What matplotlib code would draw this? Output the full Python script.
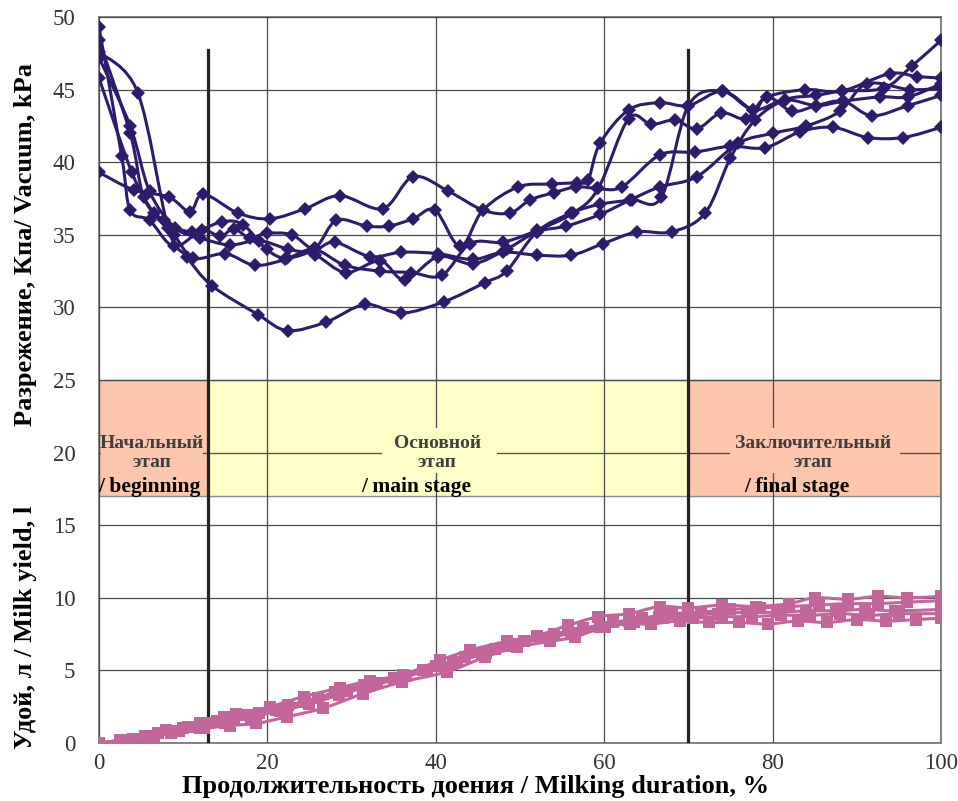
import matplotlib
matplotlib.use("Agg")
import matplotlib.pyplot as plt
from matplotlib.patches import Rectangle, PathPatch
from matplotlib.path import Path

plt.rcParams['font.family'] = ['Liberation Serif', 'DejaVu Serif']

# ---------------- data ----------------
# Vacuum curves (kPa) vs milking duration (%)
vac_P_x = [0, 4.6, 8.2, 10.4, 13.4, 18.9, 22.4, 27, 31.6, 35.9, 41, 45.8, 48.4, 52, 56.1, 59.5, 63.3, 66.8, 70, 74, 77.7, 81.5, 85.2, 88.4, 92.8, 96.1, 100]
vac_P_y = [47.6, 44.8, 35.5, 33.5, 31.5, 29.5, 28.4, 29.0, 30.2, 29.6, 30.4, 31.7, 32.5, 35.2, 36.5, 37.1, 37.4, 37.6, 43.9, 44.9, 43.6, 44.3, 43.9, 44.2, 44.5, 44.5, 45.4]

vac_Q_x = [0, 2.7, 3.7, 6, 8.9, 12.2, 14.4, 16, 17.9, 19.9, 22.9, 25.5, 28, 32.2, 35.9, 40.3, 44.4, 48, 52, 56.1, 59.9, 63.9, 68, 72, 75, 77.9, 81.5, 85.2, 88.2, 93.2, 96.5, 100]
vac_Q_y = [49.3, 40.4, 36.7, 36.0, 34.2, 35.3, 34.9, 35.4, 34.8, 35.1, 35.0, 34.0, 34.5, 33.5, 33.8, 33.7, 33.3, 33.8, 33.6, 33.6, 34.4, 35.2, 35.2, 36.5, 40.3, 42.9, 44.3, 44.6, 44.9, 45.1, 46.6, 48.4]

vac_R_x = [0, 3.7, 5.3, 7.7, 11, 14.6, 17.1, 19.9, 22.3, 25.7, 28.2, 31.8, 34.4, 37.3, 39.9, 42.9, 45.6, 49.8, 53.8, 56.8, 58.1, 59.5, 62.9, 66.6, 70, 74.1, 77.7, 79.3, 83.9, 88.2, 93.9, 97.1, 100]
vac_R_y = [48.4, 42.0, 37.6, 36.0, 35.2, 35.9, 35.7, 34.0, 33.4, 34.1, 36.0, 35.6, 35.6, 36.1, 36.7, 34.2, 36.7, 38.3, 38.5, 38.6, 38.8, 41.3, 43.6, 44.1, 43.9, 44.9, 43.6, 44.5, 45.0, 44.9, 46.1, 45.9, 45.8]

vac_S_x = [0, 3.9, 6.5, 8.9, 11.2, 15, 18.5, 22.1, 25.5, 29.2, 33.4, 37.1, 40.7, 44.1, 48, 52, 56.3, 59.3, 62.9, 65.6, 68.4, 71, 73.9, 76.9, 79.3, 82.3, 85.2, 88.4, 91.8, 96.1, 100]
vac_S_y = [45.8, 39.3, 36.5, 35.0, 33.4, 33.7, 32.9, 33.3, 34.0, 32.9, 32.5, 32.4, 32.2, 34.4, 34.5, 35.3, 36.5, 38.2, 43.0, 42.6, 42.9, 42.3, 43.4, 43.0, 44.5, 43.5, 43.9, 44.2, 43.2, 43.9, 44.6]

vac_T_x = [0, 4.1, 8.3, 10.8, 12.4, 16.5, 20.3, 24.5, 28.6, 33.7, 37.3, 41.5, 45.6, 48.8, 51.2, 54, 56.7, 59.1, 62.1, 66.6, 70.8, 75, 79.1, 83.3, 87.2, 91.3, 95.5, 100]
vac_T_y = [39.3, 38.1, 37.6, 36.6, 37.8, 36.5, 36.1, 36.8, 37.7, 36.8, 39.0, 38.0, 36.7, 36.5, 37.4, 37.9, 38.3, 38.2, 38.3, 40.5, 40.7, 41.1, 41.0, 42.1, 42.4, 41.7, 41.7, 42.4]

vac_W_x = [0, 3.7, 6, 9, 12, 15.5, 19, 22.5, 25.7, 29.3, 33.4, 36.3, 40.3, 44.4, 48.4, 52, 55.5, 59.5, 63.1, 66.6, 71, 75.9, 80.1, 84, 88, 91.2, 96.3, 100]
vac_W_y = [47.2, 42.5, 38.0, 35.5, 34.8, 34.3, 34.6, 34.0, 33.6, 32.4, 33.2, 31.9, 33.5, 33.0, 34.0, 35.2, 35.6, 36.4, 37.4, 38.3, 39.0, 41.3, 42.0, 42.5, 43.5, 45.4, 45.0, 45.1]

vacuum_series = [(vac_P_x, vac_P_y), (vac_Q_x, vac_Q_y), (vac_R_x, vac_R_y),
                 (vac_S_x, vac_S_y), (vac_T_x, vac_T_y), (vac_W_x, vac_W_y)]

# Milk yield curves (l)
milk_1_x = [0, 3, 5.5, 8, 10.6, 12, 14.8, 16.3, 20.3, 24.3, 28.6, 32.2, 36.1, 40.5, 44.1, 48.4, 52, 55.7, 59.3, 62.9, 66.6, 70, 74, 78, 82, 85, 89, 92.5, 96, 100]
milk_1_y = [0, 0.2, 0.5, 0.9, 1.1, 1.35, 1.8, 2.0, 2.5, 3.2, 3.8, 4.3, 4.7, 5.7, 6.4, 7.0, 7.4, 8.1, 8.7, 8.9, 9.4, 9.3, 9.5, 9.4, 9.6, 10.0, 9.9, 10.1, 10.0, 10.1]
milk_2_x = [0, 4, 7, 10, 13, 16, 19, 22.5, 26, 29.5, 33, 36.5, 40, 43.5, 47, 50.5, 54, 57.5, 61, 64.5, 68, 71.5, 75, 78.5, 82, 85.5, 89, 92.5, 96, 100]
milk_2_y = [0, 0.3, 0.7, 1.0, 1.4, 1.7, 2.1, 2.6, 3.1, 3.6, 4.1, 4.6, 5.3, 5.9, 6.5, 7.0, 7.5, 7.9, 8.3, 8.6, 8.9, 9.0, 9.2, 9.3, 9.4, 9.5, 9.6, 9.6, 9.7, 9.8]
milk_3_x = [0, 3.5, 6.5, 9.5, 12.5, 15.5, 18.7, 22.3, 26.6, 31.4, 36, 41.3, 45.8, 49.6, 53.6, 56.5, 60.1, 63.1, 65.6, 69, 72.5, 76, 79.5, 83, 86.5, 90, 93.5, 97, 100]
milk_3_y = [0, 0.2, 0.5, 0.8, 1.0, 1.2, 1.35, 1.8, 2.4, 3.4, 4.2, 4.9, 5.9, 6.6, 7.0, 7.3, 8.0, 8.2, 8.2, 8.4, 8.3, 8.3, 8.2, 8.4, 8.3, 8.5, 8.4, 8.5, 8.6]
milk_4_x = [0, 2.5, 6, 9, 11.5, 14, 17.5, 21, 24.5, 28, 31.5, 35, 38.5, 42, 45.5, 49, 52.5, 56, 59.5, 63, 66.5, 70, 73.5, 77, 80.5, 84, 87.5, 91, 94.5, 100]
milk_4_y = [0, 0.2, 0.5, 0.8, 1.1, 1.5, 1.9, 2.3, 2.8, 3.5, 4.0, 4.5, 5.0, 5.6, 6.1, 6.7, 7.2, 7.6, 8.0, 8.4, 8.7, 8.8, 8.9, 9.0, 9.0, 9.1, 9.1, 9.2, 9.1, 9.2]
milk_5_x = [0, 3, 6, 8.5, 12, 15, 18, 21.5, 25, 28.5, 32, 35.5, 39, 42.5, 46, 49.5, 53, 56.5, 60, 63.5, 67, 70.5, 74, 77.5, 81, 84.5, 88, 91.5, 95, 100]
milk_5_y = [0, 0.1, 0.4, 0.7, 1.0, 1.4, 1.8, 2.2, 2.7, 3.3, 3.9, 4.4, 5.0, 5.6, 6.2, 6.8, 7.2, 7.6, 8.0, 8.3, 8.6, 8.6, 8.7, 8.7, 8.8, 8.8, 8.9, 8.8, 8.9, 8.9]

milk_series = [(milk_1_x, milk_1_y), (milk_2_x, milk_2_y), (milk_3_x, milk_3_y),
               (milk_4_x, milk_4_y), (milk_5_x, milk_5_y)]

# stages
stage_bounds = [0, 13, 70, 100]
stage_colors = ['#FCC6AC', '#FFFFC8', '#FCC6AC']
stage_ru = ['Начальный\nэтап', 'Основной\nэтап', 'Заключительный\nэтап']
stage_en = ['/ beginning', '/ main stage', '/ final stage']
stage_text_x = [6.3, 40.2, 84.8]
stage_en_x = [6.0, 37.7, 82.9]
stage_bg_x = [(0.2, 12.4), (33.6, 47.3), (74.9, 95.1)]
band_low, band_high = 17, 25
divider_top = 47.7

x_ticks = [0, 20, 40, 60, 80, 100]
y_ticks = [0, 5, 10, 15, 20, 25, 30, 35, 40, 45, 50]


def smooth_path(xs, ys):
    """Smoothed (Excel-like) cubic Bezier path through the data points."""
    pts = list(zip(xs, ys))
    n = len(pts)
    verts = [pts[0]]
    codes = [Path.MOVETO]
    for i in range(n - 1):
        p0 = pts[i - 1] if i > 0 else pts[i]
        p1 = pts[i]
        p2 = pts[i + 1]
        p3 = pts[i + 2] if i + 2 < n else pts[i + 1]
        c1 = (p1[0] + (p2[0] - p0[0]) / 6.0, p1[1] + (p2[1] - p0[1]) / 6.0)
        c2 = (p2[0] - (p3[0] - p1[0]) / 6.0, p2[1] - (p3[1] - p1[1]) / 6.0)
        verts += [c1, c2, p2]
        codes += [Path.CURVE4, Path.CURVE4, Path.CURVE4]
    return Path(verts, codes)


# ---------------- figure ----------------
fig = plt.figure(figsize=(9.58, 8.01), dpi=100)
ax = fig.add_axes([99/958, 1-743/801, (941-99)/958, (743-17)/801])
ax.set_xlim(0, 100)
ax.set_ylim(0, 50)

# stage boxes
for i in range(3):
    ax.add_patch(Rectangle((stage_bounds[i], band_low), stage_bounds[i+1]-stage_bounds[i],
                           band_high-band_low, facecolor=stage_colors[i],
                           edgecolor='#8c8c8c', lw=1.0, zorder=0.5))

ax.set_xticks(x_ticks)
ax.set_yticks(y_ticks)
ax.grid(True, color='#4a4a4a', lw=0.9)
ax.set_axisbelow(False)
for s in ax.spines.values():
    s.set_color('#707070')
    s.set_linewidth(1.2)
ax.tick_params(length=0, labelsize=16.5, colors='#333333')
ax.tick_params(axis='x', pad=7)
ax.tick_params(axis='y', pad=17)

# stage texts
for i in range(3):
    x0, x1 = stage_bg_x[i]
    ax.add_patch(Rectangle((x0, 18.6), x1 - x0, 3.1, facecolor=stage_colors[i],
                           edgecolor='none', zorder=3))
    ax.text(stage_text_x[i], 19.98, stage_ru[i], ha='center', va='center', fontsize=14,
            fontweight='bold', color='#3f3f3f', linespacing=1.15, zorder=4)
    ax.text(stage_en_x[i], 17.65, stage_en[i], ha='center', va='center', fontsize=15.5,
            fontweight='bold', color='black', zorder=4)

# divider lines
for xb in stage_bounds[1:3]:
    ax.plot([xb, xb], [0, divider_top], color='#222222', lw=2.3, zorder=5)

vac_color = '#2F1B6C'
for xs, ys in vacuum_series:
    ax.add_patch(PathPatch(smooth_path(xs, ys), facecolor='none', edgecolor=vac_color,
                           lw=2.2, zorder=6, capstyle='round', joinstyle='round'))
    ax.plot(xs, ys, linestyle='none', color=vac_color, marker='D', markersize=7.5,
            markeredgewidth=0, zorder=7)

milk_color = '#C2669B'
for xs, ys in milk_series:
    ax.add_patch(PathPatch(smooth_path(xs, ys), facecolor='none', edgecolor=milk_color,
                           lw=2.2, zorder=6))
    ax.plot(xs, ys, linestyle='none', color=milk_color, marker='s', markersize=8.5,
            markeredgewidth=0, zorder=7)

fig.text(476/958, 1-786/801, 'Продолжительность доения / Milking duration, %', ha='center',
         va='center', fontsize=19, fontweight='bold')
fig.text(26/958, 1-244/801, 'Разрежение, Кпа/ Vacuum, kPa', rotation=90, ha='center',
         va='center', fontsize=19, fontweight='bold')
fig.text(26/958, 1-627/801, 'Удой, л / Milk yield, l', rotation=90, ha='center',
         va='center', fontsize=19, fontweight='bold')

fig.savefig('out.png', dpi=100)
